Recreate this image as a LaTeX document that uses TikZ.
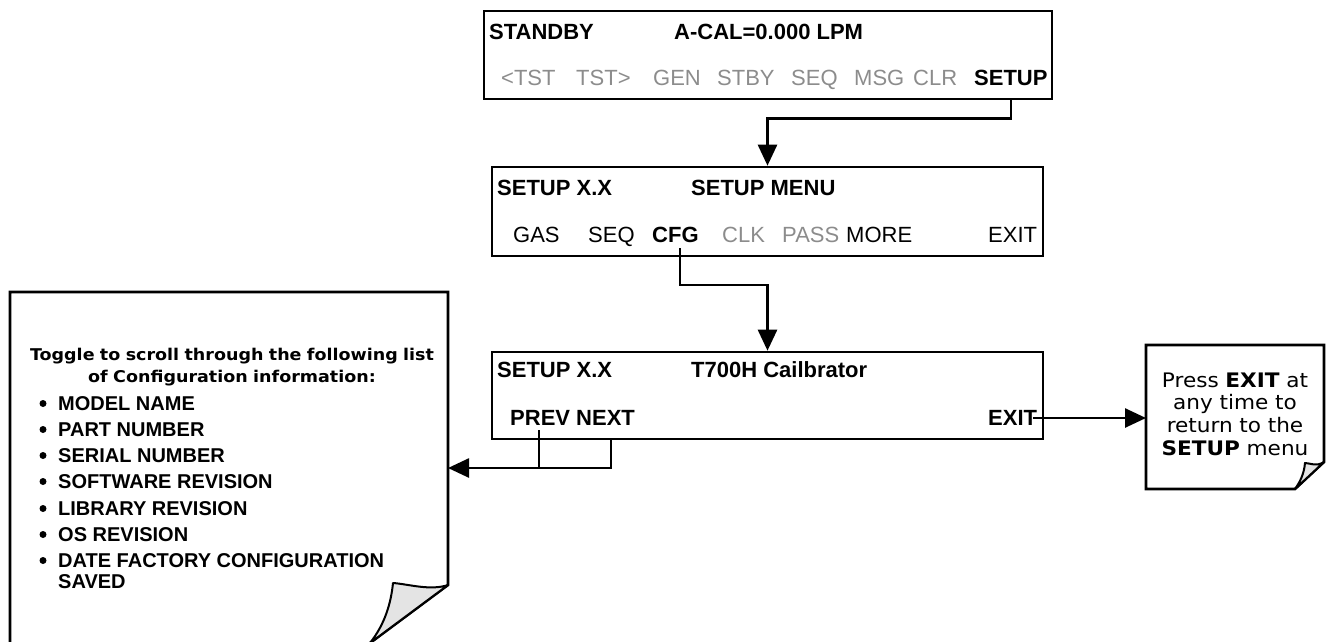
\documentclass[tikz,border=0pt]{standalone}
\usepackage{fontspec}
\setmainfont{Liberation Sans}
\newfontfamily\verd[FakeStretch=1.08]{DejaVu Sans}
\usetikzlibrary{arrows.meta,calc}
\definecolor{menugray}{RGB}{140,140,140}
\definecolor{curlgray}{RGB}{228,228,228}
\tikzset{
  lcd/.style={draw, line width=2.6pt, inner sep=0pt},
  txt/.style={anchor=base west, inner sep=0pt, font=\fontsize{22}{26}\selectfont},
  btxt/.style={txt, font=\fontsize{22}{26}\selectfont\bfseries},
  gtxt/.style={txt, text=menugray},
  wire/.style={line width=2.6pt},
  conn/.style={wire, -{Triangle[length=21pt,width=19pt]}},
  note/.style={draw, line width=2.6pt, fill=white},
  curl/.style={draw, line width=2pt, fill=curlgray, line join=round},
  item/.style={anchor=base west, inner sep=0pt, font=\fontsize{20}{21}\selectfont\bfseries},
  dot/.style={circle, fill=black, inner sep=0pt, minimum size=7pt},
}
\begin{document}
\begin{tikzpicture}[x=1pt,y=-1pt]
\useasboundingbox (0,0) rectangle (1326,641);

% LCD boxes
\node[lcd, minimum width=568pt, minimum height=88pt] (b1) at (768,55) {};
\node[lcd, minimum width=551pt, minimum height=89pt] (b2) at (767.5,211.5) {};
\node[lcd, minimum width=551pt, minimum height=87pt] (b3) at (767.5,395.5) {};

% box 1 text
\node[btxt] (t1a) at (489,39) {STANDBY};
\node[btxt] (t1b) at (674,39) {A-CAL=0.000 LPM};
\node[gtxt] (k1) at (501,85) {<TST};
\node[gtxt] (k2) at (576,85) {TST>};
\node[gtxt] (k3) at (653,85) {GEN};
\node[gtxt] (k4) at (717,85) {STBY};
\node[gtxt] (k5) at (791,85) {SEQ};
\node[gtxt] (k6) at (854,85) {MSG};
\node[gtxt] (k7) at (913,85) {CLR};
\node[btxt] (k8) at (974,85) {SETUP};

% box 2 text
\node[btxt] (t2a) at (497,195) {SETUP X.X};
\node[btxt] (t2b) at (691,195) {SETUP MENU};
\node[txt] (m1) at (513,242) {GAS};
\node[txt] (m2) at (588,242) {SEQ};
\node[btxt] (m3) at (652,242) {CFG};
\node[gtxt] (m4) at (722,242) {CLK};
\node[gtxt] (m5) at (782,242) {PASS};
\node[txt] (m6) at (846,242) {MORE};
\node[txt] (m7) at (988,242) {EXIT};

% box 3 text
\node[btxt] (t3a) at (497,377) {SETUP X.X};
\node[btxt] (t3b) at (691,377) {T700H Cailbrator};
\node[btxt] (p1) at (510,425) {PREV};
\node[btxt] (p2) at (576,425) {NEXT};
\node[btxt] (p3) at (988,425) {EXIT};

% connectors between boxes
\draw[conn] (b1.south -| k8) -- ++(0,18) -| (b2.north);
\coordinate (cfgp) at (680,248);
\draw[conn] (cfgp) -- ++(0,37) -| (b3.north);

% left note
\begin{scope}
\clip (0,0) rectangle (1326,641);
\draw[note] (10,292) -- (448,292) -- (448,585) -- (366,646) -- (10,646) -- cycle;
\draw[curl] (448,585) .. controls (430,591) and (408,584) .. (393,583)
  .. controls (391,603) and (385,624) .. (370,643) -- cycle;
\end{scope}
\node[anchor=base, text width=430pt, align=center, inner sep=0pt,
  font=\verd\bfseries\fontsize{16.2}{22}\selectfont] (nt1) at (232,360)
  {Toggle to scroll through the following list\\of Configuration information:};
\foreach \y/\t [count=\n] in {410/MODEL NAME, 436/PART NUMBER, 462/SERIAL NUMBER,
  488/SOFTWARE REVISION, 515/LIBRARY REVISION, 541/OS REVISION,
  567/DATE FACTORY CONFIGURATION} {
  \node[dot] (d\n) at (43,\y-6.5) {};
  \node[item] (i\n) at (58,\y) {\t};
}
\node[item] (i8) at (58,588) {SAVED};

% right note
\draw[note] (1146,345) -- (1324,345) -- (1324,462) -- (1295,489) -- (1146,489) -- cycle;
\draw[curl] (1324,462) .. controls (1316,467) and (1310,463) .. (1305,463)
  .. controls (1304,474) and (1300,482) .. (1295,489) -- cycle;
\node[anchor=base, text width=178pt, align=center, inner sep=0pt,
  font=\verd\fontsize{20}{22.7}\selectfont] (nt2) at (1235,387)
  {Press \textbf{EXIT} at\\any time to\\return to the\\\textbf{SETUP} menu};

% PREV/NEXT connector to left note
\coordinate (n1e) at (448,468);
\coordinate (prevp) at (539,430);
\coordinate (jn) at (611,468);
\draw[wire] (prevp) -- (prevp |- jn);
\draw[conn] (b3.south -| jn) -- (jn) -- (n1e);

% EXIT connector to right note
\coordinate (exitp) at (1033,418);
\coordinate (n2w) at (1146,418);
\draw[conn] (exitp) -- (n2w);
\end{tikzpicture}
\end{document}
